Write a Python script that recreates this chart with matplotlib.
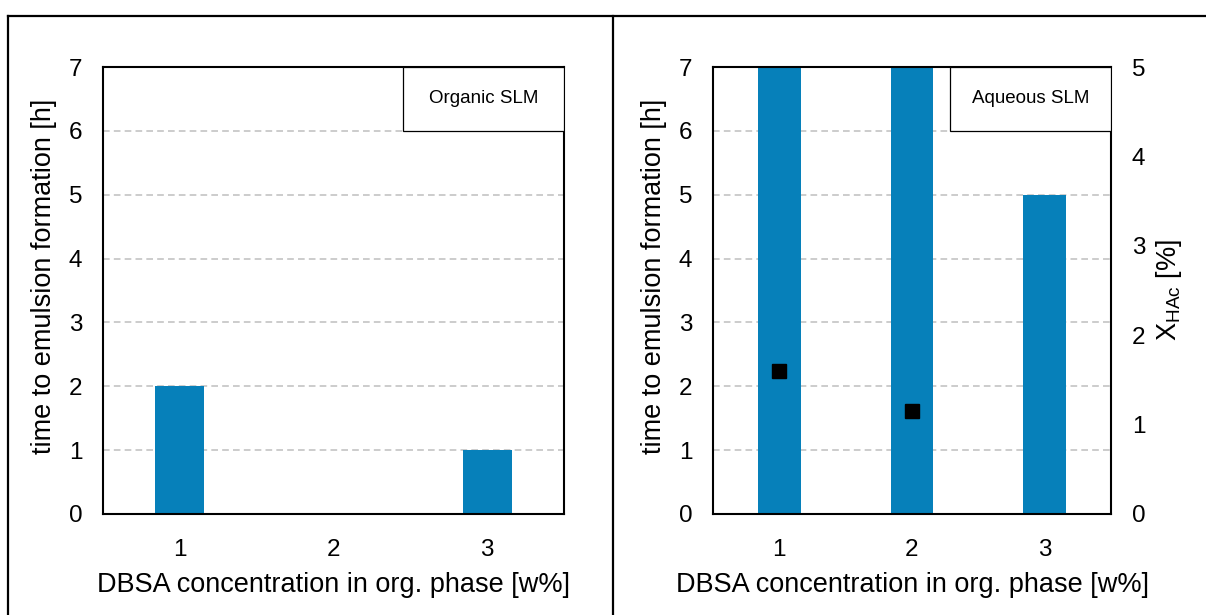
import matplotlib.pyplot as plt
from matplotlib.lines import Line2D
from matplotlib.patches import Rectangle

plt.rcParams['font.family'] = ['Liberation Sans', 'DejaVu Sans']
plt.rcParams['mathtext.default'] = 'regular'

conc = [1, 2, 3]
organic_time = [2, 0, 1]
aqueous_time = [7, 7, 5]
aqueous_conv_x = [1, 2]
aqueous_conv = [1.6, 1.15]

bar_color = '#0680BA'
grid_color = '#C4C4C4'

W, H = 1206, 615
fig = plt.figure(figsize=(W / 100, H / 100), dpi=100)


def px_axes(x0, x1, y0, y1):
    # pixel box (top-left origin) -> figure fraction
    return fig.add_axes([x0 / W, 1 - y1 / H, (x1 - x0) / W, (y1 - y0) / H])


def style_panel(ax, label):
    ax.set_xlim(0.5, 3.5)
    ax.set_ylim(0, 7)
    ax.set_xticks(conc)
    ax.set_yticks(range(8))
    ax.tick_params(length=0, labelsize=17.5)
    ax.tick_params(axis='y', pad=15)
    ax.tick_params(axis='x', pad=18)
    for y in range(1, 7):
        ax.axhline(y, color=grid_color, lw=1.2, ls=(0, (4, 2.5)), zorder=0)
    for s in ax.spines.values():
        s.set_linewidth(1.5)
        s.set_zorder(5)
    ax.set_xlabel('DBSA concentration in org. phase [w%]', fontsize=19.5, labelpad=8)
    ax.set_ylabel('time to emulsion formation [h]', fontsize=19.5, labelpad=8)
    ax.yaxis.label.set_y(0.532)
    # label box in the top right corner
    x_left = {'Organic SLM': 0.651, 'Aqueous SLM': 0.595}[label]
    ax.add_patch(Rectangle((x_left, 6 / 7), 1 - x_left, 1 / 7, transform=ax.transAxes,
                           facecolor='white', edgecolor='black', lw=0.9, zorder=6))
    ax.text((x_left + 1) / 2, 13 / 14, label, transform=ax.transAxes, ha='center',
            va='center', fontsize=13.5, zorder=7)


# left panel: organic SLM
ax1 = px_axes(103, 564, 67, 514)
ax1.bar(conc, organic_time, width=0.32, color=bar_color, zorder=2)
style_panel(ax1, 'Organic SLM')

# right panel: aqueous SLM with conversion on the secondary axis
ax2 = px_axes(713, 1111, 67, 514)
ax2.bar(conc, aqueous_time, width=0.32, color=bar_color, zorder=2)
style_panel(ax2, 'Aqueous SLM')

ax3 = ax2.twinx()
ax3.set_ylim(0, 5)
ax3.set_yticks(range(6))
ax3.tick_params(length=0, labelsize=17.5, pad=15)
ax3.plot(aqueous_conv_x, aqueous_conv, ls='none', marker='s', ms=10, color='black', zorder=8)
ax3.set_ylabel('X$_{HAc}$ [%]', fontsize=19.5, labelpad=6)
for s in ax3.spines.values():
    s.set_visible(False)

# panel frames
for (x0, y0, x1, y1) in [(8, 16, 8, H), (8, 16, W, 16), (613, 16, 613, H)]:
    fig.add_artist(Line2D([x0 / W, x1 / W], [1 - y0 / H, 1 - y1 / H],
                          transform=fig.transFigure, color='black', lw=1.6))

fig.savefig('out.png', dpi=100)
